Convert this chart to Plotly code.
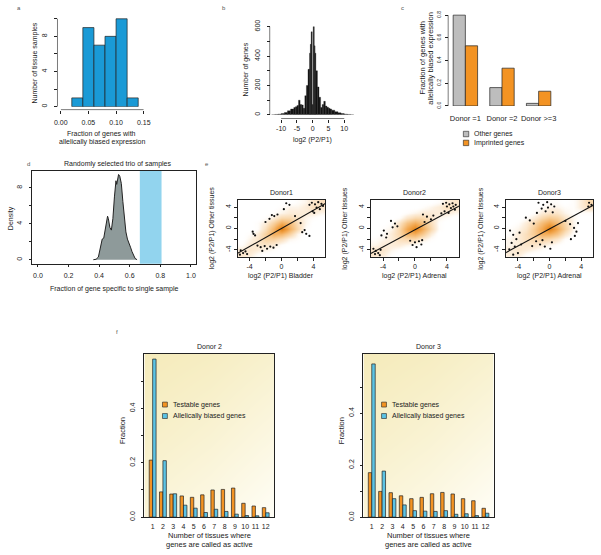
import plotly.graph_objects as go

W, H = 601, 555
FONT = "Liberation Sans, Arial, sans-serif"
TXT = "#222222"

# ---------------- data ----------------
# panel a: histogram of fraction of allelically biased genes
a_bin_left = [0.02, 0.04, 0.06, 0.08, 0.10, 0.12]
a_bin_width = 0.02
a_counts = [1, 9, 7, 8, 10, 1]

# panel b: histogram of log2(P2/P1)
b_edges = [-13, -12, -11, -10, -9, -8, -7, -6, -5.5, -5, -4.5, -4, -3.5, -3, -2.5, -2, -1.5, -1,
           -0.75, -0.5, -0.15, 0.15, 0.5, 0.75, 1, 1.5, 2, 2.5, 3, 3.5, 4, 4.5, 5, 5.5, 6,
           7, 8, 9, 10, 11, 12, 13]
b_counts = [1, 3, 5, 9, 16, 28, 40,
            50, 56, 64, 100, 70, 68, 45, 130, 200, 310,
            420, 480, 565, 70, 600, 470,
            420, 300, 190, 120, 50, 70, 92, 60, 52, 45, 40,
            32, 22, 14, 9, 5, 3, 1]

# panel c
c_groups = ["Donor =1", "Donor =2", "Donor >=3"]
c_other = [0.80, 0.162, 0.023]
c_imprinted = [0.53, 0.333, 0.13]
c_legend = ["Other genes", "Imprinted genes"]

# panel d: density of fraction of gene specific to single sample
d_x = [0.362, 0.38, 0.395, 0.41, 0.42, 0.43, 0.44, 0.45, 0.455, 0.46, 0.47, 0.48, 0.49, 0.50,
       0.51, 0.515, 0.52, 0.527, 0.535, 0.545, 0.555, 0.565, 0.575, 0.585, 0.595, 0.605,
       0.615, 0.625, 0.635, 0.648]
d_density = [0, 0.05, 0.3, 1.6, 2.3, 2.4, 3.6, 4.7, 4.85, 4.6, 3.6, 3.3, 4.6, 7.0,
             8.8, 8.4, 9.1, 9.5, 9.3, 8.5, 6.5, 4.6, 3.1, 2.3, 1.7, 1.4, 0.9, 0.4, 0.15, 0]
d_observed = [0.666, 0.808]

# panel e: smoothed density grids (rows y=5 .. -5, cols x=-5 .. 5) and outlying points
e_grid_axis = [-5, -4, -3, -2, -1, 0, 1, 2, 3, 4, 5]
e_density_d1 = [
    [0, 0, 0, 0, 0, 0, 0, .05, .1, .2, .25],
    [0, 0, 0, 0, 0, .05, .1, .1, .15, .25, .2],
    [0, 0, 0, 0, .05, .1, .15, .15, .15, .15, .1],
    [0, 0, 0, .05, .15, .3, .3, .2, .1, .05, 0],
    [0, 0, .05, .15, .35, .6, .5, .25, .1, 0, 0],
    [0, 0, .05, .25, .55, 1.0, .6, .3, .05, 0, 0],
    [0, .05, .15, .35, .6, .55, .35, .1, 0, 0, 0],
    [0, .1, .2, .35, .35, .25, .1, .05, 0, 0, 0],
    [.05, .15, .2, .2, .15, .05, 0, 0, 0, 0, 0],
    [.15, .2, .15, .1, .05, 0, 0, 0, 0, 0, 0],
    [.2, .15, .05, 0, 0, 0, 0, 0, 0, 0, 0]]
e_density_d2 = [
    [0, 0, 0, 0, 0, 0, 0, 0, .05, .15, .2],
    [0, 0, 0, 0, 0, 0, .05, .1, .15, .25, .2],
    [0, 0, 0, 0, .05, .1, .15, .15, .15, .15, .1],
    [0, 0, 0, .05, .2, .3, .3, .2, .1, .05, 0],
    [0, 0, .05, .2, .45, .6, .45, .25, .05, 0, 0],
    [0, .05, .1, .3, .65, .95, .6, .3, .05, 0, 0],
    [0, .05, .15, .3, .55, .6, .4, .15, 0, 0, 0],
    [.05, .1, .15, .25, .3, .3, .15, .05, 0, 0, 0],
    [.1, .15, .15, .15, .1, .05, 0, 0, 0, 0, 0],
    [.2, .2, .1, .05, 0, 0, 0, 0, 0, 0, 0],
    [.2, .15, .05, 0, 0, 0, 0, 0, 0, 0, 0]]
e_density_d3 = [
    [0, 0, 0, 0, 0, .05, .05, 0, .05, .15, .3],
    [0, 0, 0, 0, .05, .1, .1, .05, .05, .15, .25],
    [0, 0, 0, .05, .15, .2, .2, .1, .05, .05, .05],
    [0, 0, .05, .15, .3, .4, .35, .2, .1, 0, 0],
    [0, .05, .15, .3, .5, .65, .5, .3, .1, 0, 0],
    [.05, .1, .2, .4, .65, 1.0, .65, .35, .1, 0, 0],
    [.05, .15, .25, .4, .6, .6, .45, .2, .05, 0, 0],
    [.1, .15, .25, .3, .35, .3, .2, .05, 0, 0, 0],
    [.1, .15, .2, .2, .15, .1, .05, 0, 0, 0, 0],
    [.15, .2, .15, .1, .05, 0, 0, 0, 0, 0, 0],
    [.15, .15, .05, 0, 0, 0, 0, 0, 0, 0, 0]]
e_pts_d1_x = [3.8, 4.2, 4.6, 5.0, 4.4, 3.9, 4.8, 4.1, 5.2, 3.5, 0.6, 1.0, 0.3, -1.2, -0.9, -0.5, -1.5,
              -2.0, 1.7, 2.4, -3.6, -3.5, -3.3, 2.6, 3.1, 3.5, 2.9, -3.0, -2.6, -2.1, -1.8, -1.4,
              -2.4, -1.0, -0.6, -5.1, -4.8, -4.5, -5.2, -4.3]
e_pts_d1_y = [4.8, 4.5, 4.9, 4.6, 3.9, 3.2, 3.6, 2.9, 4.2, 4.4, 4.7, 4.4, 3.6, 2.5, 2.3, 2.6, 1.8,
              1.2, 2.3, 1.0, -0.6, -1.0, -1.3, -0.7, -1.0, -1.4, -0.3, -3.2, -3.5, -3.3, -3.8, -3.4,
              -4.2, -3.6, -3.1, -4.1, -4.6, -4.3, -4.9, -4.8]
e_pts_d2_x = [3.5, 3.9, 4.3, 4.7, 5.1, 4.0, 4.5, 5.0, 3.7, 4.2, 3.3, 4.8, 1.0, 1.5, 2.0, 1.2, 2.3,
              -3.0, -2.5, -2.2, -2.8, -3.9, -3.5, -3.6, -4.2, -0.6, 0.0, 0.5, 0.8, 0.2, -0.3, 0.9,
              -5.2, -4.9, -4.6, -4.3, -5.0, -4.4]
e_pts_d2_y = [4.6, 4.8, 4.5, 4.7, 4.4, 4.1, 3.8, 3.5, 3.2, 2.9, 2.8, 4.1, 2.6, 2.2, 1.7, 1.2, 2.4,
              1.4, 0.9, 0.4, 0.2, -0.4, -1.0, -1.7, -1.3, -2.3, -2.6, -2.4, -3.0, -3.5, -3.1, -2.2,
              -3.8, -4.2, -4.6, -4.0, -4.8, -5.0]
e_pts_d3_x = [-1.4, -0.8, -0.3, 0.2, 0.6, -1.0, -0.5, 0.4, -1.6, -0.2, -5.0, -4.6, -4.2, -4.8,
              -3.8, -4.4, -3.6, -5.1, -4.0, -4.6, 2.0, 2.6, 3.1, 3.4, 3.2, 2.7, 3.6, 5.0, 5.3, 4.9,
              -1.7, -1.2, -0.6, 0.1, -0.9, 0.3, -2.2, -2.5, -3.0, -2.0]
e_pts_d3_y = [4.8, 4.4, 4.9, 4.5, 4.1, 3.7, 3.2, 3.0, 2.9, 3.9, -0.4, -1.2, -2.0, -2.7, -0.8, -3.4,
              -3.0, -3.9, -4.6, -4.9, 1.4, 0.8, 0.1, -0.6, -1.4, -2.0, 1.0, 4.8, 4.4, 4.1, -2.4,
              -3.0, -3.4, -3.8, -2.2, -2.6, -3.3, 1.5, 2.0, 0.9]
e_titles = ["Donor1", "Donor2", "Donor3"]
e_xlabels = ["log2 (P2/P1) Bladder", "log2 (P2/P1) Adrenal", "log2 (P2/P1) Adrenal"]
e_slope = [0.85, 0.80, 0.80]
e_intercept = [0.0, -0.25, -0.1]

# panel f
f_tissues = [1, 2, 3, 4, 5, 6, 7, 8, 9, 10, 11, 12]
f_d2_testable = [0.21, 0.093, 0.085, 0.078, 0.073, 0.082, 0.100, 0.102, 0.107, 0.051, 0.041, 0.035]
f_d2_biased = [0.582, 0.208, 0.086, 0.044, 0.033, 0.017, 0.029, 0.021, 0.011, 0.006, 0.005, 0.016]
f_d3_testable = [0.171, 0.099, 0.094, 0.082, 0.071, 0.076, 0.090, 0.095, 0.089, 0.071, 0.063, 0.034]
f_d3_biased = [0.589, 0.177, 0.071, 0.047, 0.025, 0.023, 0.022, 0.025, 0.011, 0.013, 0.006, 0.015]
f_legend = ["Testable genes", "Allelically biased genes"]

# ---------------- colours ----------------
C_A = "#1a9ad6"
C_GREY = "#bdbdbd"
C_ORANGE = "#f39323"
C_CYAN = "#5cc3e4"
C_SKY = "#92d4ee"
C_DENS = "#8e9a9a"

# ---------------- helpers ----------------
def fx(px):
    return px / W

def fy(py):
    return 1 - py / H

def lin(v0, p0, v1, p1, d):
    return v0 + (d - p0) * (v1 - v0) / (p1 - p0)

BASE = dict(showgrid=False, zeroline=False, ticks="outside", ticklen=3, tickwidth=0.6,
            tickcolor=TXT, linecolor=TXT, linewidth=0.6, showline=False, fixedrange=True,
            tickfont=dict(size=7, color=TXT, family=FONT))

def xaxis(d0, d1, rng, **kw):
    a = dict(BASE)
    a.update(domain=[fx(d0), fx(d1)], range=rng, tickangle=0)
    a.update(kw)
    return a

def yaxis(dbot, dtop, rng, **kw):
    a = dict(BASE)
    a.update(domain=[fy(dbot), fy(dtop)], range=rng, tickangle=-90)
    a.update(kw)
    return a

fig = go.Figure()
layout = dict(width=W, height=H, margin=dict(l=0, r=0, t=0, b=0), paper_bgcolor="white",
              plot_bgcolor="white", showlegend=False, barmode="group", bargap=1 / 3,
              bargroupgap=0, font=dict(family=FONT, size=7, color=TXT))
shapes = []
annots = []

def ann(text, px, py, size=7, angle=0, xanchor="center", color=TXT):
    annots.append(dict(text=text, x=fx(px), y=fy(py), xref="paper", yref="paper",
                       showarrow=False, textangle=angle, xanchor=xanchor, yanchor="middle",
                       font=dict(size=size, color=color, family=FONT)))

def hline(xref, x0, x1, py):
    shapes.append(dict(type="line", xref=xref, yref="paper", x0=x0, x1=x1, y0=fy(py), y1=fy(py),
                       line=dict(color=TXT, width=0.6)))

def vline(yref, y0, y1, px):
    shapes.append(dict(type="line", xref="paper", yref=yref, x0=fx(px), x1=fx(px), y0=y0, y1=y1,
                       line=dict(color=TXT, width=0.6)))

def legend_box(px, py, color, size=5.5):
    shapes.append(dict(type="rect", xref="paper", yref="paper", x0=fx(px - size / 2),
                       x1=fx(px + size / 2), y0=fy(py + size / 2), y1=fy(py - size / 2),
                       fillcolor=color, line=dict(color=TXT, width=0.6)))

# ---------------- panel a ----------------
fig.add_trace(go.Bar(x=a_bin_left, y=a_counts, width=a_bin_width, offset=0, xaxis="x", yaxis="y",
                     marker=dict(color=C_A, line=dict(color=TXT, width=0.7))))
layout["xaxis"] = xaxis(55, 140, [0, 0.15], anchor="free", position=fy(108), ticklabelstandoff=3,
                        tickvals=[0, 0.05, 0.10, 0.15], ticktext=["0.00", "0.05", "0.10", "0.15"])
layout["yaxis"] = yaxis(105, 14, [0, lin(0, 105, 10, 16, 14)], anchor="free", position=fx(51.7),
                        ticklabelstandoff=5,
                        tickvals=[0, 2, 4, 6, 8, 10], ticktext=["0", "", "4", "", "8", ""])
hline("x", 0, 0.15, 108)
vline("y", 0, 10, 51.7)
ann("a", 12, 5, size=6, color="#555")
ann("Number of tissue samples", 29, 61, angle=-90)
ann("Fraction of genes with", 97, 133)
ann("allelically biased expression", 97, 141)

# ---------------- panel b ----------------
b_left = b_edges[:-1]
b_width = [b_edges[i + 1] - b_edges[i] for i in range(len(b_edges) - 1)]
fig.add_trace(go.Bar(x=b_left, y=b_counts, width=b_width, offset=0, xaxis="x2", yaxis="y2",
                     marker=dict(color="#151515", line=dict(color="#151515", width=0.3))))
layout["xaxis2"] = xaxis(262, 362, [lin(-10, 280.7, 10, 345.3, 262), lin(-10, 280.7, 10, 345.3, 362)],
                         anchor="free", position=fy(117), tickvals=[-10, -5, 0, 5, 10],
                         ticktext=["-10", "-5", "0", "5", "10"])
layout["yaxis2"] = yaxis(113.3, 20, [0, lin(0, 113.3, 600, 24, 20)], anchor="free", position=fx(269),
                         ticklabelstandoff=4,
                         tickvals=[0, 100, 200, 300, 400, 500, 600],
                         ticktext=["0", "", "200", "", "400", "", "600"])
hline("x2", -10, 10, 117)
vline("y2", 0, 600, 269)
ann("b", 222, 5, size=6, color="#555")
ann("Number of genes", 245, 67, angle=-90)
ann("log2 (P2/P1)", 313, 139)

# ---------------- panel c ----------------
c_pos = [1, 2, 3]
fig.add_trace(go.Bar(x=c_pos, y=c_other, xaxis="x3", yaxis="y3", offsetgroup="o",
                     marker=dict(color=C_GREY, line=dict(color=TXT, width=0.7))))
fig.add_trace(go.Bar(x=c_pos, y=c_imprinted, xaxis="x3", yaxis="y3", offsetgroup="i",
                     marker=dict(color=C_ORANGE, line=dict(color=TXT, width=0.7))))
layout["xaxis3"] = xaxis(452, 565, [lin(1, 469.3, 3, 544.3, 452), lin(1, 469.3, 3, 544.3, 565)],
                         anchor="free", position=fy(111), ticks="", tickvals=c_pos,
                         ticktext=c_groups, tickangle=0,
                         tickfont=dict(size=7.5, color=TXT, family=FONT))
layout["yaxis3"] = yaxis(104.3, 10, [0, lin(0, 104.3, 0.8, 12.3, 10)], anchor="free", position=fx(451.7),
                         ticklabelstandoff=2,
                         tickvals=[0, 0.2, 0.4, 0.6, 0.8], ticktext=["0.0", "0.2", "0.4", "0.6", "0.8"],
                         tickfont=dict(size=5, color=TXT, family=FONT))
vline("y3", 0, 0.8, 451.7)
ann("c", 405, 5, size=6, color="#555")
ann("Fraction of genes with", 425, 56, size=7.5, angle=-90)
ann("allelically biased expression", 433.5, 56, size=7.5, angle=-90)
legend_box(470, 132.7, C_GREY)
legend_box(470, 141.7, C_ORANGE)
ann(c_legend[0], 476, 132.7, size=7, xanchor="left")
ann(c_legend[1], 476, 141.7, size=7, xanchor="left")

# ---------------- panel d ----------------
fig.add_trace(go.Scatter(x=d_x, y=d_density, xaxis="x4", yaxis="y4", mode="lines", fill="tozeroy",
                         fillcolor=C_DENS, line=dict(color="#222", width=1)))
shapes.append(dict(type="rect", xref="x4", yref="y4 domain", x0=d_observed[0], x1=d_observed[1],
                   y0=0, y1=1, fillcolor=C_SKY, line=dict(width=0), layer="below"))
layout["xaxis4"] = xaxis(26, 194, [lin(0, 31.7, 1, 188.3, 26), lin(0, 31.7, 1, 188.3, 194)],
                         anchor="y4", showline=True, mirror=True, ticklabelstandoff=2,
                         tickvals=[0, 0.2, 0.4, 0.6, 0.8, 1.0],
                         ticktext=["0.0", "0.2", "0.4", "0.6", "0.8", "1.0"])
layout["yaxis4"] = yaxis(264, 170, [lin(0, 260, 8, 187.3, 264), lin(0, 260, 8, 187.3, 170)],
                         anchor="x4", showline=True, mirror=True, ticklabelstandoff=4,
                         tickvals=[0, 2, 4, 6, 8], ticktext=["0", "", "4", "", "8"])
ann("d", 22, 163, size=6, color="#555")
ann("Randomly selected trio of samples", 113, 163)
ann("Density", 4, 218, angle=-90)
ann("Fraction of gene specific to single sample", 110, 290)

# ---------------- panel e ----------------
ann("e", 205, 163, size=6, color="#555")
e_boxes = [(236, 326), (372.7, 462.7), (511, 600)]
e_grids = [e_density_d1, e_density_d2, e_density_d3]
e_px = [e_pts_d1_x, e_pts_d2_x, e_pts_d3_x]
e_py = [e_pts_d1_y, e_pts_d2_y, e_pts_d3_y]
dens_scale = [[0, "rgba(255,255,255,0)"], [0.12, "#fdf1e2"], [0.35, "#f9d2a0"],
              [0.65, "#f3a850"], [1, "#e27f12"]]
for i in range(3):
    xa, ya = "x%d" % (5 + i), "y%d" % (5 + i)
    fig.add_trace(go.Heatmap(x=e_grid_axis, y=e_grid_axis, z=e_grids[i][::-1], xaxis=xa, yaxis=ya,
                             zsmooth="best", colorscale=dens_scale, zmin=0, zmax=1, showscale=False,
                             hoverinfo="skip"))
    fig.add_trace(go.Scatter(x=e_px[i], y=e_py[i], xaxis=xa, yaxis=ya, mode="markers",
                             marker=dict(size=2.2, color="#111")))
    lx = [-6, 6]
    ly = [e_intercept[i] + e_slope[i] * v for v in lx]
    fig.add_trace(go.Scatter(x=lx, y=ly, xaxis=xa, yaxis=ya, mode="lines",
                             line=dict(color="#111", width=1.1)))
    x0, x1 = e_boxes[i]
    layout["xaxis%d" % (5 + i)] = xaxis(x0, x1, [-5.5, 5.5], anchor=ya, showline=True, mirror=True,
                                        tickvals=[-4, -2, 0, 2, 4], ticktext=["-4", "", "0", "", "4"])
    layout["yaxis%d" % (5 + i)] = yaxis(257.3, 199.3, [-5.35, 5.35], anchor=xa, showline=True,
                                        mirror=True, tickvals=[-4, -2, 0, 2, 4],
                                        ticktext=["-4", "", "0", "", "4"])
    cx = (x0 + x1) / 2
    ann(e_titles[i], cx, 191.7)
    ann(e_xlabels[i], cx, 276)
    ann("log2 (P2/P1) Other tissues", x0 - 26, 228, angle=-90)

# ---------------- panel f ----------------
ann("f", 113, 333, size=6, color="#555")
f_boxes = [(140.7, 273.3), (365, 498.3)]
f_tops = [0.6025, 0.629]
f_test = [f_d2_testable, f_d3_testable]
f_bias = [f_d2_biased, f_d3_biased]
f_titles = ["Donor 2", "Donor 3"]
bg_scale = [[0, "#fffef7"], [1, "#f5ebbb"]]
for i in range(2):
    xa, ya = "x%d" % (8 + i), "y%d" % (8 + i)
    top = f_tops[i]
    fig.add_trace(go.Heatmap(x=[0.2, 6.5, 12.8], y=[0, top / 2, top],
                             z=[[0.5, 0.28, 0.0], [0.78, 0.6, 0.35], [1.0, 0.88, 0.68]],
                             xaxis=xa, yaxis=ya, zsmooth="best", colorscale=bg_scale, zmin=0, zmax=1,
                             showscale=False, hoverinfo="skip"))
    fig.add_trace(go.Bar(x=f_tissues, y=f_test[i], xaxis=xa, yaxis=ya, offsetgroup="t",
                         marker=dict(color=C_ORANGE, line=dict(color=TXT, width=0.7))))
    fig.add_trace(go.Bar(x=f_tissues, y=f_bias[i], xaxis=xa, yaxis=ya, offsetgroup="b",
                         marker=dict(color=C_CYAN, line=dict(color=TXT, width=0.7))))
    x0, x1 = f_boxes[i]
    layout["xaxis%d" % (8 + i)] = xaxis(x0, x1, [0.2, 12.8], anchor=ya, showline=True, mirror=True,
                                        ticks="", tickvals=f_tissues, ticklabelstandoff=3,
                                        ticktext=[str(t) for t in f_tissues])
    layout["yaxis%d" % (8 + i)] = yaxis(520.7, 355, [0, top], anchor=xa, showline=True, mirror=True,
                                        ticklabelstandoff=3,
                                        tickvals=[0, 0.1, 0.2, 0.3, 0.4, 0.5],
                                        ticktext=["0.0", "", "0.2", "", "0.4", ""])
    cx = (x0 + x1) / 2
    ann(f_titles[i], cx, 348.3)
    ann("Fraction", x0 - 22.4, 433, size=7.5, angle=-90)
    ann("Number of tissues where", cx, 539, size=7.5)
    ann("genes are called as active", cx, 548.5, size=7.5)
    legend_box(x0 + 21, 406.7, C_ORANGE, size=5)
    legend_box(x0 + 21, 418.3, C_CYAN, size=5)
    ann(f_legend[0], x0 + 27, 406.7, size=7, xanchor="left")
    ann(f_legend[1], x0 + 27, 418.3, size=7, xanchor="left")

layout["shapes"] = shapes
layout["annotations"] = annots
fig.update_layout(**layout)
fig.write_html("out.html", config={"displayModeBar": False},
               post_script="document.body.style.margin='0px';document.body.style.overflow='hidden';")
